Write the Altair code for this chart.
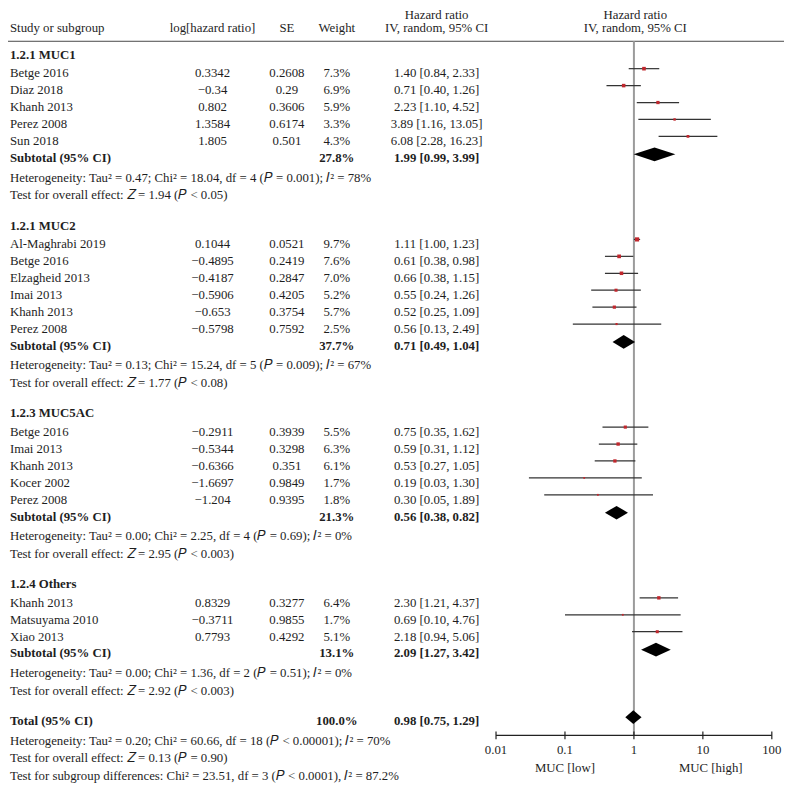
import altair as alt
import pandas as pd

# ---------------- data ----------------
group_titles = ["1.2.1 MUC1", "1.2.1 MUC2", "1.2.3 MUC5AC", "1.2.4 Others"]
study_names = [
    ["Betge 2016", "Diaz 2018", "Khanh 2013", "Perez 2008", "Sun 2018"],
    ["Al-Maghrabi 2019", "Betge 2016", "Elzagheid 2013", "Imai 2013", "Khanh 2013", "Perez 2008"],
    ["Betge 2016", "Imai 2013", "Khanh 2013", "Kocer 2002", "Perez 2008"],
    ["Khanh 2013", "Matsuyama 2010", "Xiao 2013"],
]
log_hr = [
    [0.3342, -0.34, 0.802, 1.3584, 1.805],
    [0.1044, -0.4895, -0.4187, -0.5906, -0.653, -0.5798],
    [-0.2911, -0.5344, -0.6366, -1.6697, -1.204],
    [0.8329, -0.3711, 0.7793],
]
se_vals = [
    [0.2608, 0.29, 0.3606, 0.6174, 0.501],
    [0.0521, 0.2419, 0.2847, 0.4205, 0.3754, 0.7592],
    [0.3939, 0.3298, 0.351, 0.9849, 0.9395],
    [0.3277, 0.9855, 0.4292],
]
weights = [
    [7.3, 6.9, 5.9, 3.3, 4.3],
    [9.7, 7.6, 7.0, 5.2, 5.7, 2.5],
    [5.5, 6.3, 6.1, 1.7, 1.8],
    [6.4, 1.7, 5.1],
]
hr_vals = [
    [1.40, 0.71, 2.23, 3.89, 6.08],
    [1.11, 0.61, 0.66, 0.55, 0.52, 0.56],
    [0.75, 0.59, 0.53, 0.19, 0.30],
    [2.30, 0.69, 2.18],
]
ci_low = [
    [0.84, 0.40, 1.10, 1.16, 2.28],
    [1.00, 0.38, 0.38, 0.24, 0.25, 0.13],
    [0.35, 0.31, 0.27, 0.03, 0.05],
    [1.21, 0.10, 0.94],
]
ci_high = [
    [2.33, 1.26, 4.52, 13.05, 16.23],
    [1.23, 0.98, 1.15, 1.26, 1.09, 2.49],
    [1.62, 1.12, 1.05, 1.30, 1.89],
    [4.37, 4.76, 5.06],
]
sub_weight = [27.8, 37.7, 21.3, 13.1]
sub_hr = [1.99, 0.71, 0.56, 2.09]
sub_low = [0.99, 0.49, 0.38, 1.27]
sub_high = [3.99, 1.04, 0.82, 3.42]
heterogeneity = [
    "Heterogeneity: Tau² = 0.47; Chi² = 18.04, df = 4 (𝑃 = 0.001); 𝐼² = 78%",
    "Heterogeneity: Tau² = 0.13; Chi² = 15.24, df = 5 (𝑃 = 0.009); 𝐼² = 67%",
    "Heterogeneity: Tau² = 0.00; Chi² = 2.25, df = 4 (𝑃 = 0.69); 𝐼² = 0%",
    "Heterogeneity: Tau² = 0.00; Chi² = 1.36, df = 2 (𝑃 = 0.51); 𝐼² = 0%",
]
overall_effect = [
    "Test for overall effect: 𝑍 = 1.94 (𝑃 < 0.05)",
    "Test for overall effect: 𝑍 = 1.77 (𝑃 < 0.08)",
    "Test for overall effect: 𝑍 = 2.95 (𝑃 < 0.003)",
    "Test for overall effect: 𝑍 = 2.92 (𝑃 < 0.003)",
]
total_label = "Total (95% CI)"
total_weight = 100.0
total_hr, total_low, total_high = 0.98, 0.75, 1.29
total_notes = [
    "Heterogeneity: Tau² = 0.20; Chi² = 60.66, df = 18 (𝑃 < 0.00001); 𝐼² = 70%",
    "Test for overall effect: 𝑍 = 0.13 (𝑃 = 0.90)",
    "Test for subgroup differences: Chi² = 23.51, df = 3 (𝑃 < 0.0001), 𝐼² = 87.2%",
]
header_cols = ["Study or subgroup", "log[hazard ratio]", "SE", "Weight"]
hr_header = ["Hazard ratio", "IV, random, 95% CI"]
axis_ticks = [0.01, 0.1, 1, 10, 100]
axis_tick_labels = ["0.01", "0.1", "1", "10", "100"]
favours_labels = ["MUC [low]", "MUC [high]"]
favours_pos = [0.1, 13]

# ---------------- layout ----------------
REF_W, REF_H = 793, 792
S = 0.978
W, H = round(REF_W * S), round(REF_H * S)
FONT = "Liberation Serif"
FS = 12.8
INK = "#1e1e1e"

X_STUDY, X_LOGHR, X_SE, X_W, X_HR, X_FOREST = 2, 209, 285, 336, 438, 641
FOREST_RANGE = [499 * S, 781 * S]
HEAD1, HEAD2, HEAD_RULE = 11, 25, 34
AXIS_Y = 743.3
FIRST = 52
STEP, HEAD_GAP, HET_GAP, TEST_GAP, GROUP_GAP = 17.3, 19, 20, 18, 31


def fmt(v):
    return str(v).replace("-", "\u2212")


def ci_text(h, lo, hi):
    return f"{h:.2f} [{lo:.2f}, {hi:.2f}]"


texts, cis, dias = [], [], []


def add(t, px, py, align="left", bold=False):
    texts.append({"t": t, "px": px, "py": py, "align": align, "bold": bold})


def add_diamond(i, lo, est, hi, yc, half=7):
    # vertical-orient area: the outline goes lo -> est -> hi, opening to +/- half at est
    for xv, top, bot in [(lo, yc, yc), (est, yc - half, yc + half), (hi, yc, yc)]:
        dias.append({"id": i, "vx": xv, "vt": top, "vb": bot})


# header
for t, px, al in zip(header_cols, [X_STUDY, X_LOGHR, X_SE, X_W], ["left", "center", "center", "center"]):
    add(t, px, HEAD2, al)
for px in [X_HR, X_FOREST]:
    add(hr_header[0], px, HEAD1, "center")
    add(hr_header[1], px, HEAD2, "center")

y = FIRST
for g in range(len(group_titles)):
    add(group_titles[g], X_STUDY, y, bold=True)
    y += HEAD_GAP
    for j, name in enumerate(study_names[g]):
        add(name, X_STUDY, y)
        add(fmt(log_hr[g][j]), X_LOGHR, y, "center")
        add(fmt(se_vals[g][j]), X_SE, y, "center")
        add(f"{weights[g][j]:.1f}%", X_W, y, "center")
        add(ci_text(hr_vals[g][j], ci_low[g][j], ci_high[g][j]), X_HR, y, "center")
        cis.append({"lo": ci_low[g][j], "hi": ci_high[g][j], "est": hr_vals[g][j],
                    "w": weights[g][j], "ly": y - 9})
        y += STEP
    add("Subtotal (95% CI)", X_STUDY, y, bold=True)
    add(f"{sub_weight[g]:.1f}%", X_W, y, "center", True)
    add(ci_text(sub_hr[g], sub_low[g], sub_high[g]), X_HR, y, "center", True)
    add_diamond(g, sub_low[g], sub_hr[g], sub_high[g], y - 8)
    y += HET_GAP
    add(heterogeneity[g], X_STUDY, y)
    y += TEST_GAP
    add(overall_effect[g], X_STUDY, y)
    y += GROUP_GAP

add(total_label, X_STUDY, y, bold=True)
add(f"{total_weight:.1f}%", X_W, y, "center", True)
add(ci_text(total_hr, total_low, total_high), X_HR, y, "center", True)
add_diamond(99, total_low, total_hr, total_high, y - 8)
y += HET_GAP
for note in total_notes:
    add(note, X_STUDY, y)
    y += TEST_GAP

tdf = pd.DataFrame(texts)
cdf = pd.DataFrame(cis)
ddf = pd.DataFrame(dias)

# ---------------- scales ----------------
xs_px = alt.Scale(domain=[0, REF_W], range=[0, W], nice=False, zero=False)
ys = alt.Scale(domain=[0, REF_H], range=[0, H], nice=False, zero=False)
xf = alt.Scale(type="log", domain=[0.01, 100], range=FOREST_RANGE, nice=False)


def text_layer(align, bold):
    d = tdf[(tdf["align"] == align) & (tdf["bold"] == bold)]
    return alt.Chart(d).mark_text(
        align=align, baseline="alphabetic", font=FONT, fontSize=FS,
        fontWeight="bold" if bold else "normal", color=INK
    ).encode(
        x=alt.X("px:Q", scale=xs_px, axis=None),
        y=alt.Y("py:Q", scale=ys, axis=None),
        text="t:N",
    )


layers = [text_layer(a, b) for a in ["left", "center"] for b in [False, True]]

# header rule
layers.append(
    alt.Chart(pd.DataFrame({"x1": [0], "x2": [REF_W], "py": [HEAD_RULE]}))
    .mark_rule(color="#4a4a4a", strokeWidth=1)
    .encode(x=alt.X("x1:Q", scale=xs_px, axis=None), x2="x2:Q",
            y=alt.Y("py:Q", scale=ys, axis=None))
)

# null line at HR = 1
layers.append(
    alt.Chart(pd.DataFrame({"v": [1], "y1": [HEAD_RULE], "y2": [AXIS_Y]}))
    .mark_rule(color="#9b9b9b", strokeWidth=2)
    .encode(x=alt.X("v:Q", scale=xf, axis=None),
            y=alt.Y("y1:Q", scale=ys, axis=None), y2="y2:Q")
)

# CI lines
layers.append(
    alt.Chart(cdf).mark_rule(color="#333333", strokeWidth=1.2)
    .encode(x=alt.X("lo:Q", scale=xf, axis=None), x2="hi:Q",
            y=alt.Y("ly:Q", scale=ys, axis=None))
)
# squares
layers.append(
    alt.Chart(cdf).mark_square(color="#c0272d", opacity=1)
    .encode(x=alt.X("est:Q", scale=xf, axis=None),
            y=alt.Y("ly:Q", scale=ys, axis=None),
            size=alt.Size("w:Q", scale=alt.Scale(domain=[0, 10], range=[0, 18]), legend=None))
)
# diamonds (subtotals and total)
layers.append(
    alt.Chart(ddf).mark_area(color="black")
    .encode(x=alt.X("vx:Q", scale=xf, axis=None),
            y=alt.Y("vt:Q", scale=ys, axis=None), y2="vb:Q",
            detail="id:N")
)

# axis
layers.append(
    alt.Chart(pd.DataFrame({"a": [axis_ticks[0]], "b": [axis_ticks[-1]], "py": [AXIS_Y]}))
    .mark_rule(color="#222222", strokeWidth=1.2)
    .encode(x=alt.X("a:Q", scale=xf, axis=None), x2="b:Q",
            y=alt.Y("py:Q", scale=ys, axis=None))
)
tick_df = pd.DataFrame({"v": axis_ticks, "lab": axis_tick_labels,
                        "y1": AXIS_Y - 4, "y2": AXIS_Y + 4, "ly": 762})
layers.append(
    alt.Chart(tick_df).mark_rule(color="#222222", strokeWidth=1.2)
    .encode(x=alt.X("v:Q", scale=xf, axis=None),
            y=alt.Y("y1:Q", scale=ys, axis=None), y2="y2:Q")
)
layers.append(
    alt.Chart(tick_df).mark_text(align="center", baseline="alphabetic", font=FONT,
                                 fontSize=FS, color=INK)
    .encode(x=alt.X("v:Q", scale=xf, axis=None),
            y=alt.Y("ly:Q", scale=ys, axis=None), text="lab:N")
)
layers.append(
    alt.Chart(pd.DataFrame({"v": favours_pos, "lab": favours_labels, "ly": 781}))
    .mark_text(align="center", baseline="alphabetic", font=FONT, fontSize=FS, color=INK)
    .encode(x=alt.X("v:Q", scale=xf, axis=None),
            y=alt.Y("ly:Q", scale=ys, axis=None), text="lab:N")
)

chart = (
    alt.layer(*layers)
    .resolve_scale(x="independent")
    .properties(width=W, height=H, padding=0, autosize=alt.AutoSizeParams(type="none"))
    .configure_view(stroke=None)
)

chart.save("out.html", embed_options={"renderer": "svg", "actions": False})
